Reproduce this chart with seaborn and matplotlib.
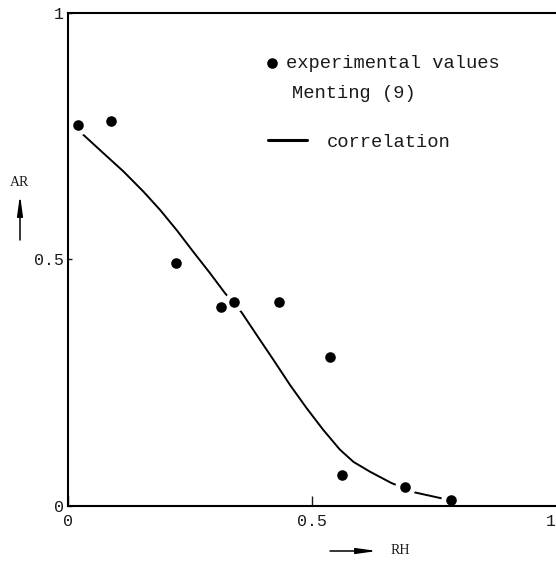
import matplotlib
matplotlib.use("Agg")
import matplotlib.pyplot as plt
import matplotlib.transforms as mtransforms
import seaborn as sns
import pandas as pd

# Experimental points (Menting) : relative humidity vs. AR
rh_exp = [0.019, 0.088, 0.220, 0.312, 0.340, 0.431, 0.536, 0.560, 0.690, 0.784]
ar_exp = [0.772, 0.781, 0.492, 0.404, 0.414, 0.413, 0.302, 0.063, 0.038, 0.012]

# Correlation curve read along its length
rh_corr = [0.029, 0.072, 0.113, 0.154, 0.188, 0.222, 0.256, 0.290, 0.321, 0.355,
           0.386, 0.420, 0.454, 0.488, 0.522, 0.556, 0.584, 0.618, 0.662, 0.710, 0.765]
ar_corr = [0.754, 0.715, 0.678, 0.637, 0.600, 0.559, 0.515, 0.472, 0.431, 0.392,
           0.346, 0.296, 0.245, 0.198, 0.154, 0.114, 0.089, 0.069, 0.046, 0.027, 0.015]

tick_vals = [0, 0.5, 1]
tick_text = ["0", "0.5", "1"]

exp_df = pd.DataFrame({"RH": rh_exp, "AR": ar_exp})
corr_df = pd.DataFrame({"RH": rh_corr, "AR": ar_corr})

sns.set_theme(style="white")
plt.rcParams["font.family"] = ["Liberation Mono", "DejaVu Sans"]

W, H = 556, 561
TXT = "#1a1a1a"
fig = plt.figure(figsize=(W / 100, H / 100), dpi=100)
ax = fig.add_axes([68.3 / W, 55.2 / H, 488.4 / W, 493.1 / H])

sns.lineplot(data=corr_df, x="RH", y="AR", ax=ax, color="black", linewidth=1.4,
             sort=False, estimator=None, label="correlation", legend=False, zorder=2)
# white halo behind each dot leaves a gap in the curve
sns.scatterplot(data=exp_df, x="RH", y="AR", ax=ax, color="white", s=215,
                linewidth=0, legend=False, zorder=3)
sns.scatterplot(data=exp_df, x="RH", y="AR", ax=ax, color="black", s=58,
                linewidth=0, label="experimental values", legend=False, zorder=4)

ax.set_xlim(0, 1)
ax.set_ylim(0, 1)
ax.set_xlabel("")
ax.set_ylabel("")
ax.set_xticks(tick_vals)
ax.set_xticklabels(tick_text)
ax.set_yticks(tick_vals)
ax.set_yticklabels(tick_text)
ax.tick_params(axis="x", direction="in", length=7, width=1, pad=6,
               labelsize=12, colors=TXT, bottom=True)
ax.tick_params(axis="y", direction="in", length=3, width=1, pad=3,
               labelsize=12, colors=TXT, left=True)
# keep the last x label inside the canvas
last = ax.get_xticklabels()[-1]
last.set_transform(last.get_transform()
                   + mtransforms.ScaledTranslation(-6 / 100, 0, fig.dpi_scale_trans))
ax.spines["right"].set_visible(False)
for side in ("top", "left", "bottom"):
    ax.spines[side].set_color("black")
    ax.spines[side].set_linewidth(1.5)
    ax.spines[side].set_zorder(6)

# legend: two separate keys plus the source reference line
handles, labels = ax.get_legend_handles_labels()
hmap = dict(zip(labels, handles))
fs = 13.5
leg1 = ax.legend([hmap["experimental values"]], ["experimental values"],
                 loc="center left", bbox_to_anchor=(266.0 / W, 1 - 63 / H),
                 bbox_transform=fig.transFigure, frameon=False, fontsize=fs,
                 handlelength=0.6, handletextpad=0.45, borderpad=0, borderaxespad=0,
                 labelcolor=TXT)
ax.add_artist(leg1)
leg2 = ax.legend([hmap["correlation"]], ["correlation"],
                 loc="center left", bbox_to_anchor=(268.3 / W, 1 - 142 / H),
                 bbox_transform=fig.transFigure, frameon=False, fontsize=fs,
                 handlelength=2.05, handletextpad=1.07, borderpad=0, borderaxespad=0,
                 labelcolor=TXT)
for ln in leg2.get_lines():
    ln.set_linewidth(2.2)
fig.text(291.7 / W, 1 - 93 / H, "Menting (9)", fontsize=fs, ha="left", va="center",
         color=TXT)

# axis names with arrows
serif = ["Liberation Serif", "DejaVu Serif"]
fig.text(20 / W, 1 - 183 / H, "AR", family=serif, fontsize=10, ha="center", va="center",
         color=TXT)
fig.text(400 / W, 1 - 550 / H, "RH", family=serif, fontsize=10, ha="center", va="center",
         color=TXT)
arrow = dict(arrowstyle="-|>,head_length=1.0,head_width=0.14", lw=1.1, color="black",
             shrinkA=0, shrinkB=0, mutation_scale=12)
ax.annotate("", xy=(20, H - 195), xycoords="figure pixels",
            xytext=(20, H - 240), textcoords="figure pixels",
            arrowprops=arrow, annotation_clip=False)
ax.annotate("", xy=(377, H - 551), xycoords="figure pixels",
            xytext=(330, H - 551), textcoords="figure pixels",
            arrowprops=arrow, annotation_clip=False)

fig.savefig("out.png", dpi=100)
